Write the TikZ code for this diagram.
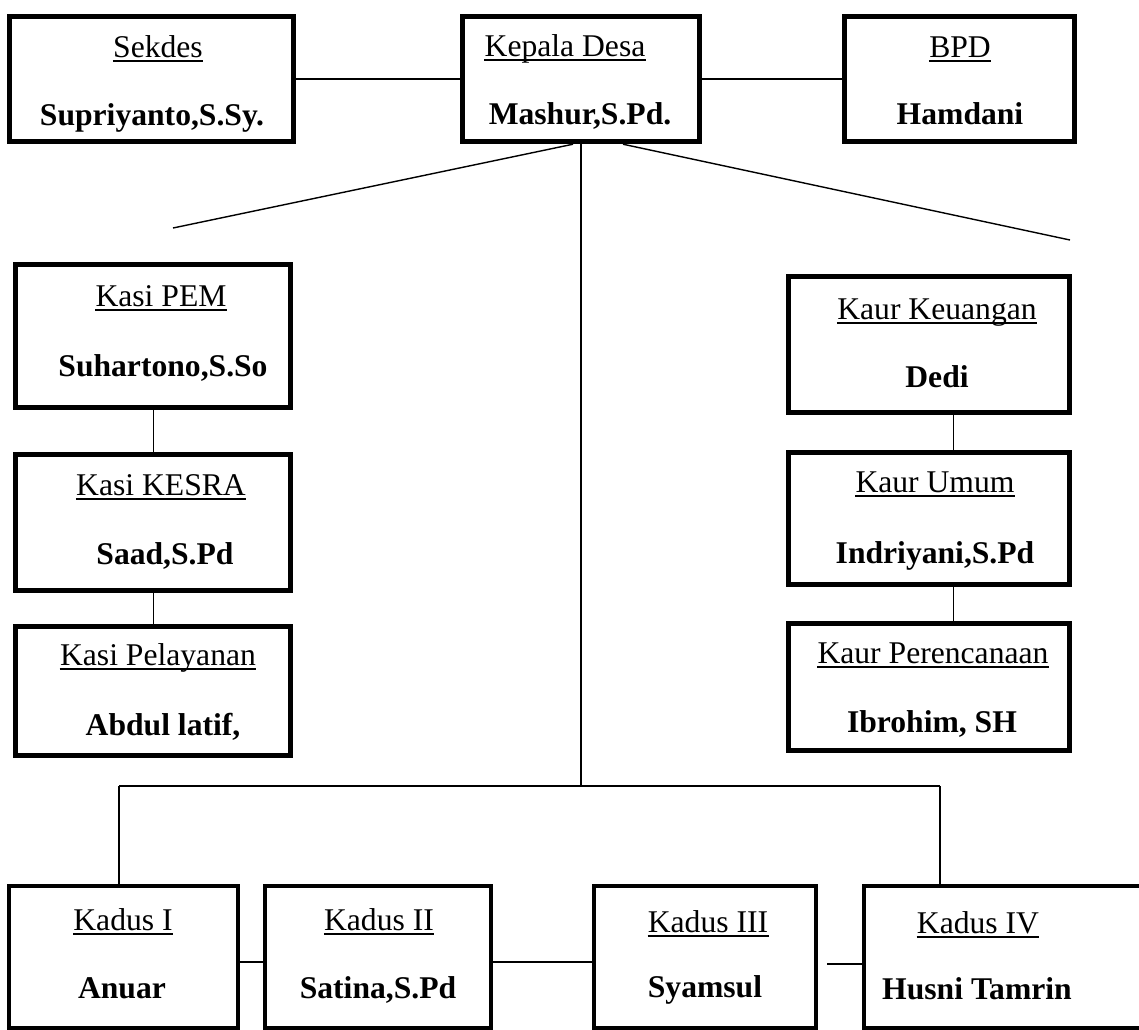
\documentclass[tikz,border=0pt]{standalone}
\usepackage{fontspec}
\setmainfont{Liberation Serif}
\usetikzlibrary{calc}

\tikzset{
    kotak/.style={draw, line width=2.8pt, inner sep=0pt},
    ukuran/.style 2 args={minimum width=#1*0.02cm, minimum height=#2*0.02cm},
    judul/.style={anchor=base, inner sep=0pt, font=\fontsize{18}{20}\selectfont},
    nama/.style={anchor=base, inner sep=0pt, font=\fontsize{18}{20}\selectfont\bfseries},
    garis/.style={line width=0.8pt},
    tipis/.style={line width=0.55pt},
}

\begin{document}
\begin{tikzpicture}[x=0.02cm, y=-0.02cm]
    \useasboundingbox (0,0) rectangle (1139,1029);
    \clip (0,0) rectangle (1139,1029);

    % baris atas
    \node[kotak, ukuran={284.5}{125.5}] (sekdes) at (151.5,79) {};
    \node[kotak, ukuran={237.5}{125.5}] (kades) at (581,79) {};
    \node[kotak, ukuran={230.5}{125.5}] (bpd) at (959.5,79) {};

    % kasi di kiri
    \node[kotak, ukuran={275.5}{143.5}] (pem) at (153,336) {};
    \node[kotak, ukuran={275.5}{136.5}] (kesra) at (153,522.5) {};
    \node[kotak, ukuran={275.5}{129.5}] (yan) at (153,691) {};

    % kaur di kanan
    \node[kotak, ukuran={281.5}{136.5}] (keu) at (929,344.5) {};
    \node[kotak, ukuran={281.5}{132.5}] (umum) at (929,518.5) {};
    \node[kotak, ukuran={281.5}{127.5}] (ren) at (929,687) {};

    % kadus di bawah
    \node[kotak, ukuran={229}{142}] (kd1) at (123.5,957) {};
    \node[kotak, ukuran={226}{142}] (kd2) at (378,957) {};
    \node[kotak, ukuran={222}{142}] (kd3) at (705,957) {};
    \node[kotak, ukuran={300}{142}] (kd4) at (1014,957) {};

    % teks
    \node[judul] (sekdes-j) at (158,57) {Sekdes};
    \node[nama] (sekdes-n) at (152,125) {Supriyanto,S.Sy.};
    \node[judul] (kades-j) at (565,56) {Kepala Desa};
    \node[nama] (kades-n) at (580,124) {Mashur,S.Pd.};
    \node[judul] (bpd-j) at (960,57) {BPD};
    \node[nama] (bpd-n) at (960,124) {Hamdani};

    \node[judul] (pem-j) at (161,306) {Kasi PEM};
    \node[nama] (pem-n) at (163,376) {Suhartono,S.So};
    \node[judul] (kesra-j) at (161,495) {Kasi KESRA};
    \node[nama] (kesra-n) at (165,564) {Saad,S.Pd};
    \node[judul] (yan-j) at (158,665) {Kasi Pelayanan};
    \node[nama] (yan-n) at (163,735) {Abdul latif,};

    \node[judul] (keu-j) at (937,319) {Kaur Keuangan};
    \node[nama] (keu-n) at (937,387) {Dedi};
    \node[judul] (umum-j) at (935,492) {Kaur Umum};
    \node[nama] (umum-n) at (935,563) {Indriyani,S.Pd};
    \node[judul] (ren-j) at (933,663) {Kaur Perencanaan};
    \node[nama] (ren-n) at (932,732) {Ibrohim, SH};

    \node[judul] (kd1-j) at (123,930) {Kadus I};
    \node[nama] (kd1-n) at (122,998) {Anuar};
    \node[judul] (kd2-j) at (379,930) {Kadus II};
    \node[nama] (kd2-n) at (378,998) {Satina,S.Pd};
    \node[judul] (kd3-j) at (708,932) {Kadus III};
    \node[nama] (kd3-n) at (705,997) {Syamsul};
    \node[judul] (kd4-j) at (978,933) {Kadus IV};
    \node[nama] (kd4-n) at (977,999) {Husni Tamrin};

    % garis bawah judul
    \foreach \j in {sekdes-j,kades-j,bpd-j,pem-j,kesra-j,yan-j,keu-j,umum-j,ren-j,kd1-j,kd2-j,kd3-j,kd4-j}
        \draw[line width=0.8pt] ($(\j.base west)+(0,4)$) -- ($(\j.base east)+(0,4)$);

    % garis penghubung
    \coordinate (kiri) at (173,228);
    \coordinate (kanan) at (1070,240);
    \coordinate (tengah) at (581,786);
    \coordinate (bwkiri) at (119,786);
    \coordinate (bwkanan) at (940,786);

    \draw[garis] (sekdes) -- (kades);
    \draw[garis] (kades) -- (bpd);
    \draw[garis] ($(kades.south)+(-8,0)$) -- (kiri);
    \draw[garis] ($(kades.south)+(42,0)$) -- (kanan);
    \draw[garis] (kades.south) -- (tengah);
    \draw[garis] (bwkiri) -- (bwkanan);
    \draw[garis] (bwkiri) -- (bwkiri |- kd1.north);
    \draw[garis] (bwkanan) -- (bwkanan |- kd4.north);

    \draw[tipis] (pem) -- (kesra);
    \draw[tipis] (kesra) -- (yan);
    \draw[tipis] ($(keu.south)+(24,0)$) -- ($(umum.north)+(24,0)$);
    \draw[tipis] ($(umum.south)+(24,0)$) -- ($(ren.north)+(24,0)$);

    \draw[garis] ($(kd1.east)+(0,5)$) -- ($(kd2.west)+(0,5)$);
    \draw[garis] ($(kd2.east)+(0,5)$) -- ($(kd3.west)+(0,5)$);
    \draw[garis] ($(kd3.east)+(9,7)$) -- ($(kd4.west)+(0,7)$);
\end{tikzpicture}
\end{document}
